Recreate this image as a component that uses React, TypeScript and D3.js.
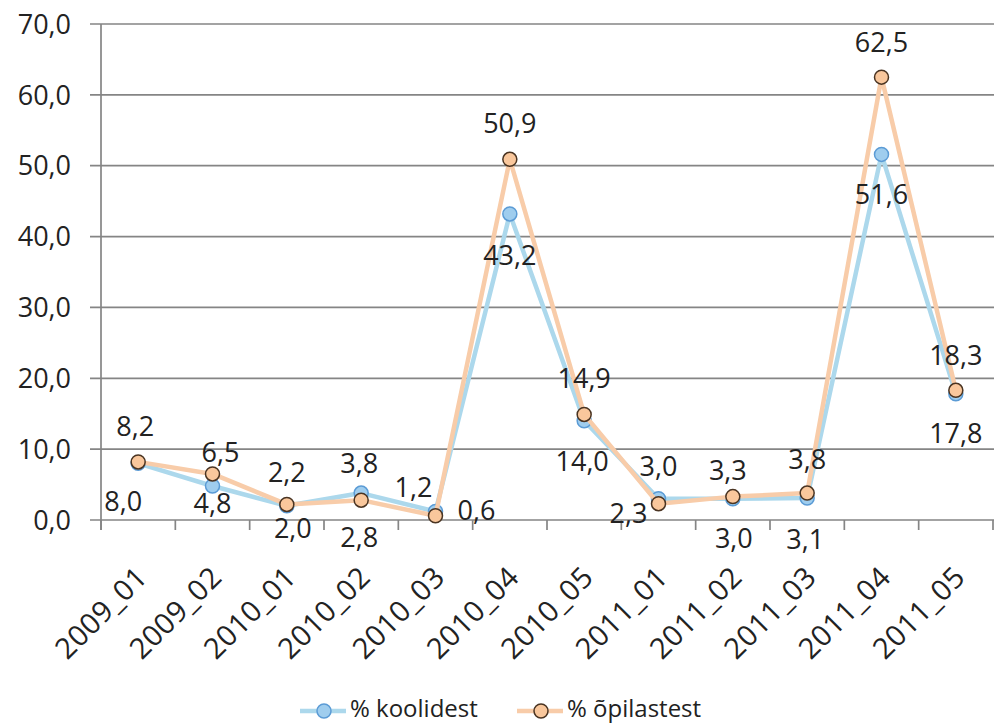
import React from "react";
import * as d3 from "d3";

const categories = ["2009_01","2009_02","2010_01","2010_02","2010_03","2010_04","2010_05","2011_01","2011_02","2011_03","2011_04","2011_05"];
const koolidest = [8.0, 4.8, 2.0, 3.8, 1.2, 43.2, 14.0, 3.0, 3.0, 3.1, 51.6, 17.8];
const opilastest = [8.2, 6.5, 2.2, 2.8, 0.6, 50.9, 14.9, 2.3, 3.3, 3.8, 62.5, 18.3];
const yTicks = [0, 10, 20, 30, 40, 50, 60, 70];
const seriesNames = ["% koolidest", "% õpilastest"];

// label placement offsets (label centre relative to marker)
const koolidestLabelOffsets: [number, number][] = [
  [-15, 38], [0, 17], [6, 22], [-2, -30], [-22, -24], [0, 41],
  [-2, 40], [0, -32], [1, 40], [-2, 41], [0, 40], [0, 39],
];
const opilastestLabelOffsets: [number, number][] = [
  [-3, -36], [8, -22], [0, -32], [-2, 37], [41, -5], [0, -36],
  [0, -36], [-30, 10], [-5, -26], [0, -34], [0, -35], [0, -35],
];

const W = 994, H = 724;
const left = 101, right = 993, top = 24, bottom = 520;
const FONT = "'Open Sans', 'Liberation Sans', sans-serif";
const TXT = "#222";
const GRID = "#858585";
const BLUE_LINE = "#acd8ec";
const ORANGE_LINE = "#f8cca9";
const BLUE_FILL = "#9fcdee";
const BLUE_STROKE = "#5b9bd5";
const ORANGE_FILL = "#f9c79c";
const ORANGE_STROKE = "#4a3422";

export default function App() {
  const x = d3.scaleBand<string>().domain(categories).range([left, right]);
  const y = d3.scaleLinear().domain([0, 70]).range([bottom, top]);
  const cx = (c: string) => (x(c) as number) + x.bandwidth() / 2;
  const line = d3.line<number>().x((_, i) => cx(categories[i])).y((v) => y(v));

  const series = [
    { name: seriesNames[0], values: koolidest, lineColor: BLUE_LINE, fill: BLUE_FILL, stroke: BLUE_STROKE, offs: koolidestLabelOffsets },
    { name: seriesNames[1], values: opilastest, lineColor: ORANGE_LINE, fill: ORANGE_FILL, stroke: ORANGE_STROKE, offs: opilastestLabelOffsets },
  ];
  const fmt = (v: number) => v.toFixed(1).replace(".", ",");
  const boundaries = d3.range(categories.length + 1).map((i) => left + i * x.step());

  return (
    <div style={{ position: "absolute", left: 0, top: 0 }}>
      <svg width={W} height={H} style={{ display: "block", background: "#fff" }} fontFamily={FONT}>
        {/* gridlines */}
        {yTicks.map((t) => (
          <line key={"g" + t} x1={90} x2={W} y1={y(t)} y2={y(t)} stroke={GRID} strokeWidth={1.7} />
        ))}
        {/* y axis */}
        <line x1={left} x2={left} y1={top} y2={bottom + 10} stroke={GRID} strokeWidth={1.7} />
        {/* x ticks */}
        {boundaries.map((b, i) => (
          <line key={"xt" + i} x1={b} x2={b} y1={bottom} y2={bottom + 10} stroke={GRID} strokeWidth={1.7} />
        ))}
        {/* y labels */}
        {yTicks.map((t) => (
          <text key={"yl" + t} x={71} y={y(t)} dy="0.36em" textAnchor="end" fontSize={27} fill={TXT}>
            {fmt(t)}
          </text>
        ))}
        {/* x labels */}
        {categories.map((c) => (
          <text key={"xl" + c} transform={`translate(${cx(c) + 11},${579}) rotate(-45)`} textAnchor="end" fontSize={29} letterSpacing={0.5} fill={TXT}>
            {c}
          </text>
        ))}
        {/* series */}
        {series.map((s) => (
          <g key={s.name}>
            <path d={line(s.values) || ""} fill="none" stroke={s.lineColor} strokeWidth={4.5} strokeLinejoin="round" />
            {s.values.map((v, i) => (
              <circle key={i} cx={cx(categories[i])} cy={y(v)} r={7} fill={s.fill} stroke={s.stroke} strokeWidth={1.5} />
            ))}
          </g>
        ))}
        {/* data labels */}
        {series.map((s) =>
          s.values.map((v, i) => (
            <text key={s.name + "l" + i} x={cx(categories[i]) + s.offs[i][0]} y={y(v) + s.offs[i][1]} dy="0.36em" textAnchor="middle" fontSize={27} fill={TXT}>
              {fmt(v)}
            </text>
          ))
        )}
        {/* legend */}
        {series.map((s, i) => {
          const lx = i === 0 ? 300 : 517;
          return (
            <g key={"lg" + i}>
              <line x1={lx} x2={lx + 46} y1={711} y2={711} stroke={s.lineColor} strokeWidth={4.5} />
              <circle cx={lx + 24} cy={711} r={7} fill={s.fill} stroke={s.stroke} strokeWidth={1.5} />
              <text x={lx + 50} y={717} fontSize={24} fill={TXT}>{s.name}</text>
            </g>
          );
        })}
      </svg>
    </div>
  );
}
